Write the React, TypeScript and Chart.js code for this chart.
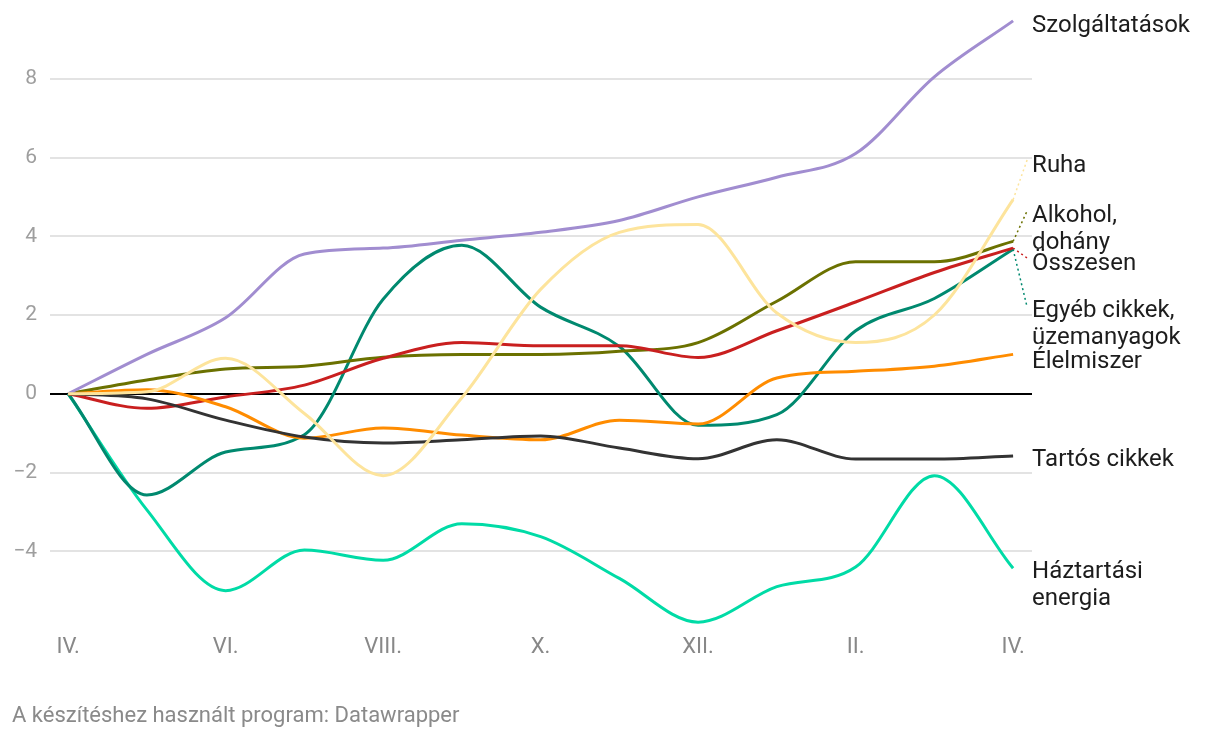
import React, { useEffect, useRef } from "react";
import { Chart, registerables } from "chart.js";
Chart.register(...registerables);

const months = ["IV.", "V.", "VI.", "VII.", "VIII.", "IX.", "X.", "XI.", "XII.", "I.", "II.", "III.", "IV."];
const xTickValues = [0, 2, 4, 6, 8, 10, 12];
const yTickValues = [-4, -2, 0, 2, 4, 6, 8];

const szolgaltatasok = [0, 1.0, 1.93, 3.55, 3.7, 3.9, 4.1, 4.4, 5.0, 5.5, 6.1, 8.05, 9.47];
const ruha = [0, 0.05, 0.9, -0.5, -2.08, -0.1, 2.65, 4.1, 4.3, 2.05, 1.3, 2.0, 4.93];
const alkohol = [0, 0.35, 0.63, 0.7, 0.93, 1.0, 1.0, 1.08, 1.3, 2.35, 3.35, 3.35, 3.87];
const osszesen = [0, -0.37, -0.08, 0.22, 0.9, 1.3, 1.22, 1.22, 0.92, 1.6, 2.33, 3.08, 3.7];
const egyeb = [0, -2.57, -1.48, -1.04, 2.4, 3.77, 2.2, 1.2, -0.8, -0.53, 1.6, 2.42, 3.67];
const elelmiszer = [0, 0.1, -0.33, -1.13, -0.87, -1.05, -1.17, -0.67, -0.77, 0.4, 0.57, 0.7, 1.0];
const tartos = [0, -0.13, -0.67, -1.1, -1.25, -1.17, -1.07, -1.38, -1.65, -1.17, -1.66, -1.66, -1.58];
const energia = [0, -2.95, -5.0, -3.97, -4.23, -3.3, -3.63, -4.69, -5.8, -4.9, -4.4, -2.08, -4.43];

const series = [
  { name: "Ruha", lines: ["Ruha"], data: ruha, color: "#fde49c", labelY: 166, connectY: 160 },
  { name: "Szolgáltatások", lines: ["Szolgáltatások"], data: szolgaltatasok, color: "#a18dd0", labelY: 26, connectY: null },
  { name: "Tartós cikkek", lines: ["Tartós cikkek"], data: tartos, color: "#333333", labelY: 460, connectY: null },
  { name: "Élelmiszer", lines: ["Élelmiszer"], data: elelmiszer, color: "#ff8c00", labelY: 362, connectY: null },
  { name: "Összesen", lines: ["Összesen"], data: osszesen, color: "#c91f1f", labelY: 264, connectY: 258 },
  { name: "Alkohol, dohány", lines: ["Alkohol,", "dohány"], data: alkohol, color: "#6b7100", labelY: 216, connectY: 211 },
  { name: "Egyéb cikkek, üzemanyagok", lines: ["Egyéb cikkek,", "üzemanyagok"], data: egyeb, color: "#00896f", labelY: 311, connectY: 307 },
  { name: "Háztartási energia", lines: ["Háztartási", "energia"], data: energia, color: "#00dba6", labelY: 572, connectY: null },
];

const labelPlugin = {
  id: "endLabels",
  afterDatasetsDraw(chart: any) {
    const ctx = chart.ctx;
    const xs = chart.scales.x;
    const ys = chart.scales.y;
    ctx.save();
    series.forEach((s) => {
      const last = s.data[s.data.length - 1];
      const px = xs.getPixelForValue(s.data.length - 1);
      const py = ys.getPixelForValue(last);
      if (s.connectY !== null) {
        ctx.beginPath();
        ctx.setLineDash([2, 3]);
        ctx.lineWidth = 1.5;
        ctx.strokeStyle = s.color;
        ctx.moveTo(px, py);
        ctx.lineTo(px + 14, s.connectY);
        ctx.stroke();
        ctx.setLineDash([]);
      }
      ctx.font = "24px Roboto";
      ctx.fillStyle = "#1d1d1d";
      ctx.textAlign = "left";
      ctx.textBaseline = "middle";
      s.lines.forEach((ln, i) => {
        ctx.fillText(ln, px + 19, s.labelY + i * 27);
      });
    });
    ctx.restore();
  },
};

export default function App() {
  const ref = useRef<HTMLCanvasElement | null>(null);
  useEffect(() => {
    if (!ref.current) return;
    const chart = new Chart(ref.current, {
      type: "line",
      data: {
        datasets: series.map((s) => ({
          label: s.name,
          data: s.data.map((v, i) => ({ x: i, y: v })),
          borderColor: s.color,
          backgroundColor: s.color,
          borderWidth: 3,
          pointRadius: 0,
          fill: false,
          cubicInterpolationMode: "monotone" as const,
        })),
      },
      options: {
        animation: false,
        responsive: false,
        maintainAspectRatio: false,
        layout: { padding: { left: 0, right: 188, top: 0, bottom: 68 } },
        plugins: { legend: { display: false }, tooltip: { enabled: false } },
        scales: {
          x: {
            type: "linear",
            min: -0.23,
            max: 12.24,
            afterBuildTicks: (scale: any) => {
              scale.ticks = xTickValues.map((v) => ({ value: v }));
            },
            afterFit: (scale: any) => {
              scale.height = 40;
              scale.paddingLeft = 0;
              scale.paddingRight = 0;
            },
            grid: { display: false, drawTicks: false },
            border: { display: false },
            ticks: {
              padding: 4,
              color: "#888888",
              font: { family: "Roboto", size: 22 },
              callback: (v: any) => months[Math.round(Number(v))],
              maxRotation: 0,
              autoSkip: false,
            },
          },
          y: {
            type: "linear",
            min: -6,
            max: 10,
            afterBuildTicks: (scale: any) => {
              scale.ticks = yTickValues.map((v) => ({ value: v }));
            },
            afterFit: (scale: any) => {
              scale.width = 50;
              scale.paddingTop = 0;
              scale.paddingBottom = 0;
            },
            grid: {
              drawTicks: false,
              color: (c: any) => (c.tick && c.tick.value === 0 ? "#000000" : "#e3e3e3"),
              lineWidth: 2,
            },
            border: { display: false },
            ticks: {
              padding: 13,
              color: "#9e9e9e",
              font: { family: "Roboto", size: 21 },
              callback: (v: any) => (Number(v) < 0 ? "\u2212" + Math.abs(Number(v)) : String(v)),
            },
          },
        },
      },
      plugins: [labelPlugin],
    });
    return () => chart.destroy();
  }, []);
  return (
    <div style={{ position: "fixed", left: 0, top: 0, width: 1220, height: 738, background: "#fff" }}>
      <canvas ref={ref} width={1220} height={738} style={{ display: "block", width: 1220, height: 738 }} />
      <div
        style={{
          position: "absolute",
          left: 12,
          top: 702,
          fontFamily: "Roboto",
          fontSize: 22,
          color: "#8a8a8a",
          lineHeight: "26px",
          whiteSpace: "nowrap",
        }}
      >
        A készítéshez használt program: Datawrapper
      </div>
    </div>
  );
}
